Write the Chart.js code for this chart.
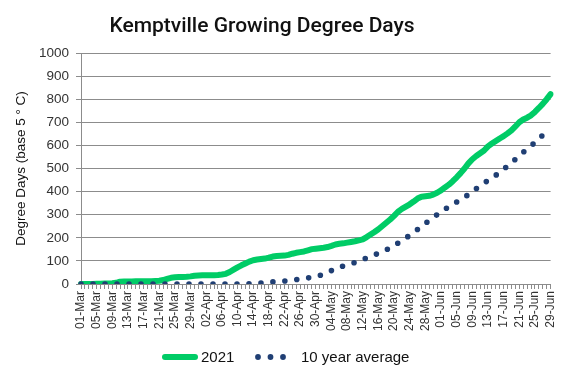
<!DOCTYPE html>
<html><head><meta charset="utf-8">
<script src="https://cdn.jsdelivr.net/npm/chart.js@4.4.1/dist/chart.umd.min.js"></script>
<style>html,body{margin:0;padding:0;background:#fff;}</style>
</head><body>
<canvas id="c" width="567" height="378"></canvas>
<script>
const chartTitle = 'Kemptville Growing Degree Days';
const yAxisTitle = 'Degree Days (base 5 ° C)';
const seriesNames = ['2021', '10 year average'];

const categories = [
'01-Mar','02-Mar','03-Mar','04-Mar','05-Mar','06-Mar','07-Mar','08-Mar','09-Mar','10-Mar',
'11-Mar','12-Mar','13-Mar','14-Mar','15-Mar','16-Mar','17-Mar','18-Mar','19-Mar','20-Mar',
'21-Mar','22-Mar','23-Mar','24-Mar','25-Mar','26-Mar','27-Mar','28-Mar','29-Mar','30-Mar','31-Mar',
'01-Apr','02-Apr','03-Apr','04-Apr','05-Apr','06-Apr','07-Apr','08-Apr','09-Apr','10-Apr',
'11-Apr','12-Apr','13-Apr','14-Apr','15-Apr','16-Apr','17-Apr','18-Apr','19-Apr','20-Apr',
'21-Apr','22-Apr','23-Apr','24-Apr','25-Apr','26-Apr','27-Apr','28-Apr','29-Apr','30-Apr',
'01-May','02-May','03-May','04-May','05-May','06-May','07-May','08-May','09-May','10-May',
'11-May','12-May','13-May','14-May','15-May','16-May','17-May','18-May','19-May','20-May',
'21-May','22-May','23-May','24-May','25-May','26-May','27-May','28-May','29-May','30-May','31-May',
'01-Jun','02-Jun','03-Jun','04-Jun','05-Jun','06-Jun','07-Jun','08-Jun','09-Jun','10-Jun',
'11-Jun','12-Jun','13-Jun','14-Jun','15-Jun','16-Jun','17-Jun','18-Jun','19-Jun','20-Jun',
'21-Jun','22-Jun','23-Jun','24-Jun','25-Jun','26-Jun','27-Jun','28-Jun','29-Jun'
];

const gdd2021 = [
0,0,0,0,1,1,2,2,3,5,
10,11,11,11,12,12,12,12,12,13,
14,17,22,27,29,30,30,31,33,36,
37,38,38,38,38,39,41,44,52,62,
72,81,89,97,103,106,108,110,114,119,
121,122,123,126,131,135,138,141,146,151,
153,155,157,160,165,171,174,176,179,182,
185,189,193,203,214,225,237,251,265,279,
295,313,325,335,345,357,370,378,380,382,
387,395,405,418,430,445,462,480,500,522,
540,554,566,578,596,608,619,630,640,652,
665,682,700,712,720,730,745,762,780,800,
822
];

const gddTenYearAvg = [
0,0,0,0,0,0,0,0,0,0,
0,0,0,0,0,0,0,0,0,0,
0,0,0,0,0,0,0,0,0,0,
0,0,0,0,0,0,0,0,0,0,
0,0,0,1,2,3,4,5,7,9,
10,11,13,15,17,19,21,23,26,29,
33,37,43,50,58,67,73,78,83,88,
93,99,106,113,119,126,133,140,148,156,
166,177,188,199,211,223,236,249,262,276,
288,300,312,324,334,345,355,365,376,387,
400,413,425,437,448,460,471,483,497,511,
525,540,555,570,584,598,613,628,645,660,
675
];

const yTickValues = [0,100,200,300,400,500,600,700,800,900,1000];
const labelEvery = 4;

const GREEN = '#00cc66';
const NAVY = '#203f74';
const GRID = '#8c8c8c';

const overlay = {
  id: 'overlay',
  afterDraw(chart) {
    const ctx = chart.ctx;
    ctx.save();
    // title
    ctx.fillStyle = '#111';
    ctx.font = '500 21px Roboto';
    ctx.textAlign = 'center';
    ctx.textBaseline = 'alphabetic';
    ctx.fillText(chartTitle, 262, 32);
    // legend
    const ly = 357;
    ctx.strokeStyle = GREEN;
    ctx.lineWidth = 6;
    ctx.lineCap = 'round';
    ctx.beginPath(); ctx.moveTo(165, ly); ctx.lineTo(195, ly); ctx.stroke();
    ctx.fillStyle = '#111';
    ctx.font = '15px "Liberation Sans"';
    ctx.textAlign = 'left';
    ctx.textBaseline = 'middle';
    ctx.fillText(seriesNames[0], 201, ly + 1);
    ctx.fillStyle = NAVY;
    [258, 270.5, 283].forEach(x => { ctx.beginPath(); ctx.arc(x, ly, 2.9, 0, Math.PI * 2); ctx.fill(); });
    ctx.fillStyle = '#111';
    ctx.fillText(seriesNames[1], 301, ly + 1);
    ctx.restore();
  }
};

new Chart(document.getElementById('c'), {
  type: 'line',
  data: {
    labels: categories,
    datasets: [
      {
        label: seriesNames[1],
        data: gddTenYearAvg,
        borderColor: NAVY,
        borderWidth: 5.6,
        borderDash: [0, 12],
        borderCapStyle: 'round',
        pointRadius: 0,
        tension: 0,
        fill: false
      },
      {
        label: seriesNames[0],
        data: gdd2021,
        borderColor: GREEN,
        borderWidth: 6,
        borderCapStyle: 'round',
        borderJoinStyle: 'round',
        pointRadius: 0,
        tension: 0,
        fill: false
      }
    ]
  },
  options: {
    responsive: false,
    animation: false,
    devicePixelRatio: 1,
    layout: { padding: { top: 53, left: 0, right: 16, bottom: 44 } },
    plugins: { legend: { display: false }, title: { display: false }, tooltip: { enabled: false } },
    scales: {
      x: {
        type: 'category',
        offset: false,
        grid: { drawOnChartArea: false, drawTicks: true, tickLength: 5, color: GRID },
        border: { color: GRID, width: 1 },
        ticks: {
          autoSkip: false,
          minRotation: 90,
          maxRotation: 90,
          padding: 2,
          color: '#333',
          font: { family: '"Liberation Sans"', size: 12 },
          callback: (v, i) => (i % labelEvery === 0 ? categories[i] : '')
        },
        afterFit: s => { s.height = 50; }
      },
      y: {
        min: 0,
        max: 1000,
        afterBuildTicks: s => { s.ticks = yTickValues.map(v => ({ value: v })); },
        grid: { color: GRID, lineWidth: 1, drawTicks: true, tickLength: 5 },
        border: { color: GRID, width: 1 },
        ticks: {
          padding: 7,
          color: '#333',
          font: { family: '"Liberation Sans"', size: 13.5 },
          callback: v => String(v)
        },
        title: {
          display: true,
          text: yAxisTitle,
          color: '#111',
          padding: { top: 13, bottom: 0 },
          font: { family: '"Liberation Sans"', size: 13.5 }
        },
        afterFit: s => { s.width = 81; }
      }
    }
  },
  plugins: [overlay]
});
</script>
</body></html>
